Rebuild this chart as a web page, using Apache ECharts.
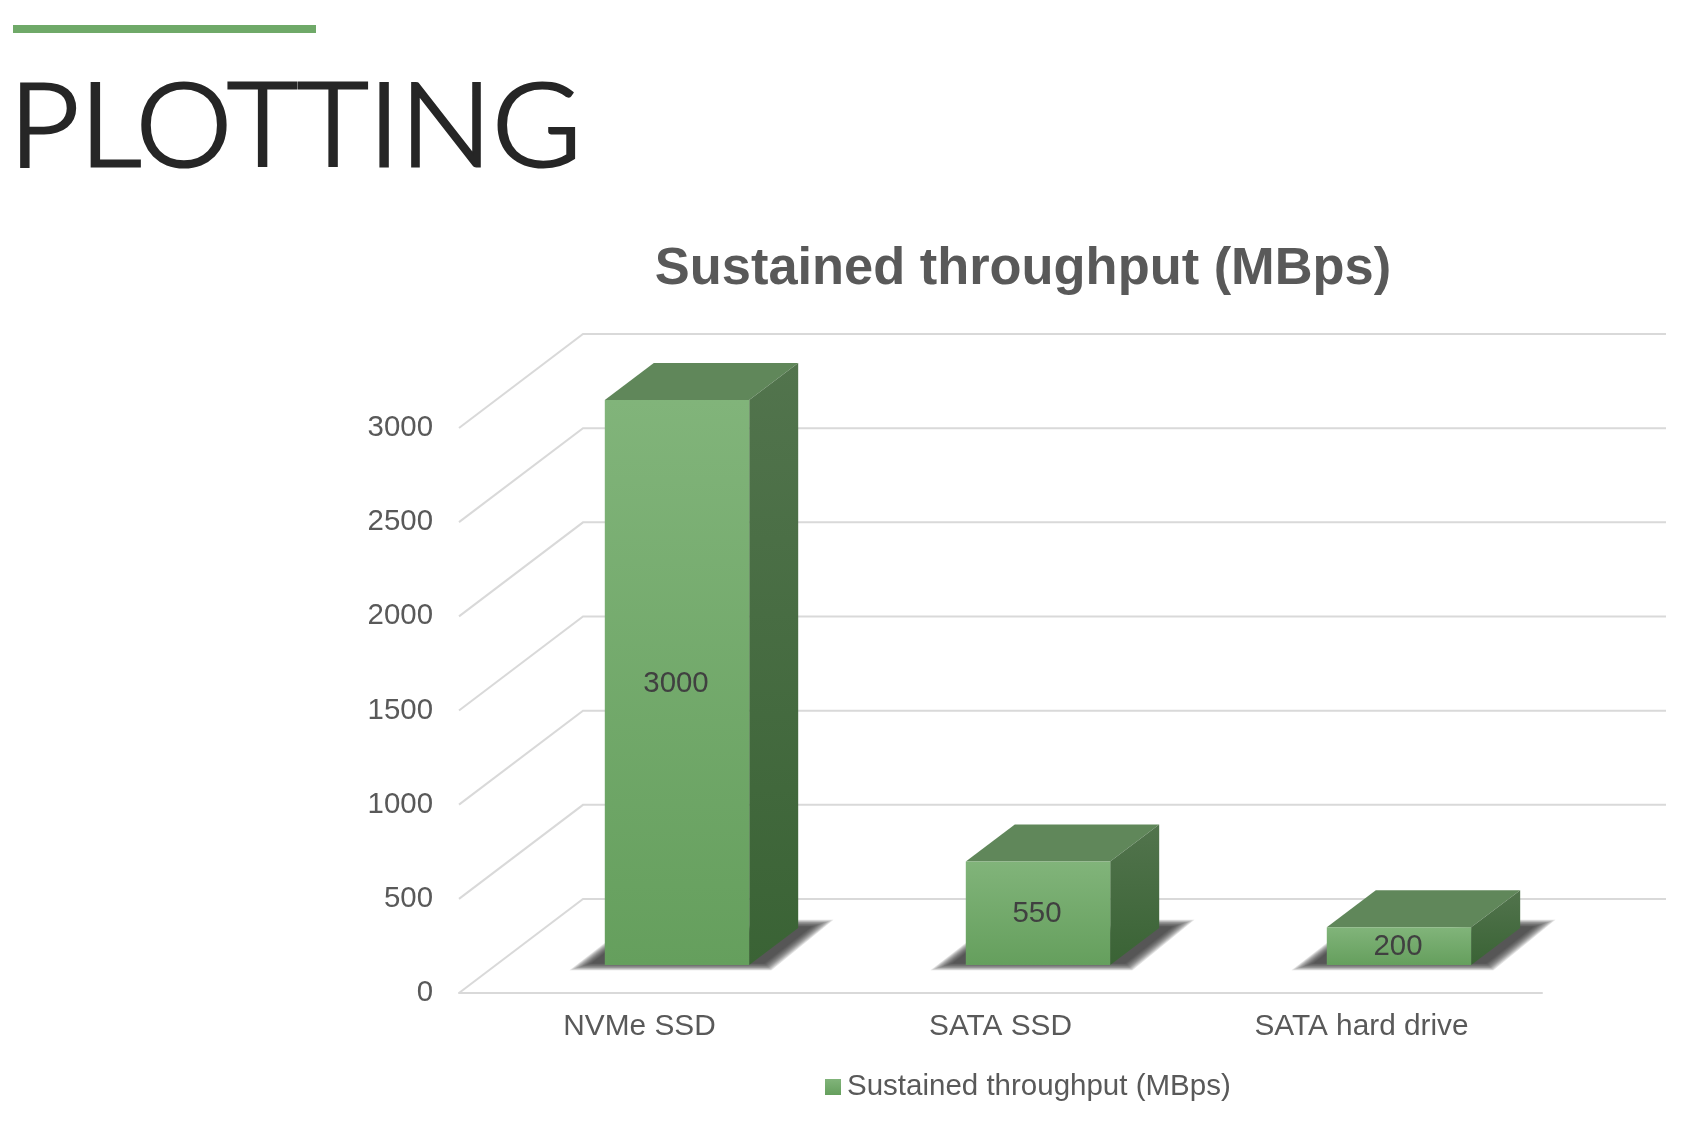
<!DOCTYPE html>
<html>
<head>
<meta charset="utf-8">
<style>html,body{margin:0;padding:0;background:#fff}#c{width:1684px;height:1126px}</style>
<script src="https://cdn.jsdelivr.net/npm/echarts@6/dist/echarts.min.js"></script>
</head>
<body>
<div id="c"></div>
<script>
const categories = ['NVMe SSD', 'SATA SSD', 'SATA hard drive'];
const throughput = [3000, 550, 200];
const yTicks = [0, 500, 1000, 1500, 2000, 2500, 3000];
const seriesName = 'Sustained throughput (MBps)';
const slideTitle = 'PLOTTING';

const WALL_DX = 124, WALL_DY = 94, BAR_DX = 49, BAR_DY = 37, BAR_SHIFT_X = 37.5, BAR_SHIFT_Y = 28, BAR_RATIO = 0.4;
const SHADOW_LAYERS = [6, 5, 4, 3, 2, 1, 0, -1, -2, -3, -4];
const G = (a, b) => new echarts.graphic.LinearGradient(0, 0, 0, 1, [{offset: 0, color: a}, {offset: 1, color: b}]);
const frontGrad = () => G('#81b47a', '#659f5d');

const chart = echarts.init(document.getElementById('c'), null, {renderer: 'canvas'});
chart.setOption({
  animation: false,
  backgroundColor: '#ffffff',
  title: [
    {text: seriesName, left: 1018, top: 239, textAlign: 'center', textStyle: {fontFamily: 'Liberation Sans', fontWeight: 'bold', fontSize: 52.4, color: '#595959'}}
  ],
  graphic: [
    {type: 'rect', left: 13, top: 25, shape: {width: 303, height: 8}, style: {fill: '#6fa968'}},
    {type: 'text', x: 9, y: 71, scaleX: 1.05, style: {text: slideTitle, fontFamily: 'Lato', fontWeight: 300, fontSize: 116,
      fill: '#262626', stroke: '#262626', lineWidth: 3, textBaseline: 'top'}}
  ],
  legend: {
    left: 820, top: 1067, icon: 'rect', itemWidth: 16, itemHeight: 16, itemGap: 0,
    data: [seriesName],
    textStyle: {fontFamily: 'Liberation Sans', fontSize: 29.5, color: '#595959', padding: [0, 0, 0, 1]}
  },
  grid: {left: 459, right: 142, top: 428, bottom: 133, containLabel: false},
  xAxis: {
    type: 'category', data: categories,
    axisLine: {lineStyle: {color: '#d9d9d9', width: 2}}, axisTick: {show: false}, splitLine: {show: false},
    axisLabel: {fontFamily: 'Liberation Sans', fontSize: 29.8, color: '#595959', margin: 19}
  },
  yAxis: {
    type: 'value', min: 0, max: 3000, interval: 500,
    axisLine: {show: false}, axisTick: {show: false}, splitLine: {show: false},
    axisLabel: {fontFamily: 'Liberation Sans', fontSize: 29.4, color: '#595959', margin: 26, formatter: v => String(v)}
  },
  series: [
    {
      type: 'custom', name: 'walls', silent: true, z: 1,
      data: yTicks.map(v => [0, v]),
      encode: {x: 0, y: 1},
      renderItem(params, api) {
        const p = api.coord([0, api.value(1)]);
        const band = api.size([1, 0])[0];
        const left = p[0] - band / 2, right = left + band * 3;
        return {type: 'polyline', shape: {points: [[left, p[1]], [left + WALL_DX, p[1] - WALL_DY], [right + WALL_DX, p[1] - WALL_DY]]},
          style: {stroke: '#d9d9d9', lineWidth: 2, fill: null}};
      }
    },
    {
      type: 'custom', name: seriesName, z: 2,
      itemStyle: {color: G('#81b47a', '#659f5d')},
      data: throughput.map((v, i) => [i, v]),
      encode: {x: 0, y: 1},
      renderItem(params, api) {
        const i = api.value(0), v = api.value(1);
        const top = api.coord([i, v]), base = api.coord([i, 0]);
        const band = api.size([1, 0])[0], w = band * BAR_RATIO;
        const x0 = top[0] + BAR_SHIFT_X - w / 2, x1 = x0 + w;
        const yt = top[1] - BAR_SHIFT_Y, yb = base[1] - BAR_SHIFT_Y;
        const dx = BAR_DX, dy = BAR_DY;
        const shadow = SHADOW_LAYERS.map(e => ({
          type: 'polygon',
          shape: {points: [
            [x0 - 22 - e * 2.2, yb + 1 + e * 0.7], [x1 + 18 + e * 0.7, yb + 1 + e * 0.7],
            [x1 + dx + 22 + e * 2.2, yb - 41 - e * 0.7], [x1 + dx, yb - 41 - e * 0.7], [x0, yb - 16 - e]]},
          style: {fill: 'rgba(50,50,50,0.14)'}
        }));
        return {type: 'group', children: shadow.concat([
          {type: 'polygon', shape: {points: [[x0, yt], [x0 + dx, yt - dy], [x1 + dx, yt - dy], [x1, yt]]}, style: {fill: '#60875a'}},
          {type: 'polygon', shape: {points: [[x1, yt], [x1 + dx, yt - dy], [x1 + dx, yb - dy], [x1, yb]]},
            style: {fill: G('#52744d', '#3a6335')}},
          {type: 'rect', shape: {x: x0, y: yt, width: w, height: yb - yt}, style: {fill: frontGrad()}},
          {type: 'text', x: (x0 + x1) / 2 - 1, y: (yt + yb) / 2 + 1,
            style: {text: String(v), fontFamily: 'Liberation Sans', fontSize: 29.4, fill: '#404040', align: 'center', verticalAlign: 'middle'}}
        ])};
      }
    }
  ]
});
</script>
</body>
</html>
